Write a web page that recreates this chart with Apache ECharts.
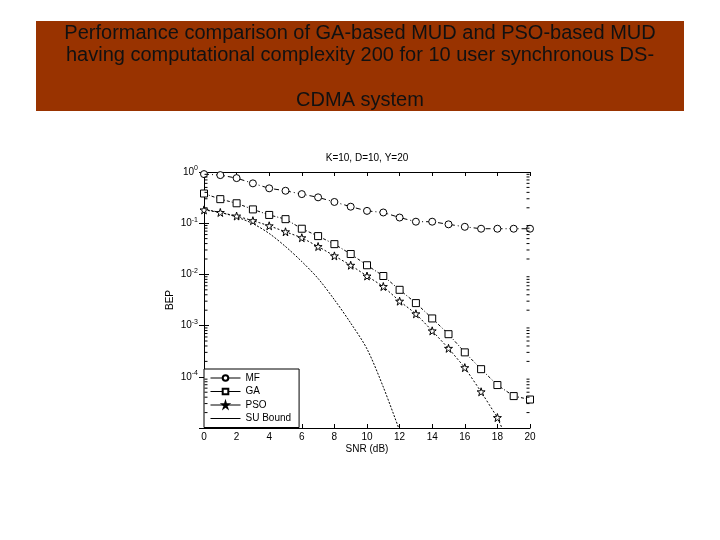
<!DOCTYPE html>
<html>
<head>
<meta charset="utf-8">
<script src="https://cdn.jsdelivr.net/npm/echarts@6/dist/echarts.min.js"></script>
<style>html,body{margin:0;padding:0;background:#fff}#c{width:720px;height:540px}</style>
</head>
<body>
<div id="c"></div>
<script>
const snr = [0,1,2,3,4,5,6,7,8,9,10,11,12,13,14,15,16,17,18,19,20];
const mf  = [0.91,0.87,0.76,0.60,0.48,0.43,0.37,0.32,0.26,0.21,0.174,0.162,0.129,0.107,0.107,0.095,0.085,0.078,0.078,0.078,0.078];
const ga  = [0.38,0.295,0.245,0.186,0.145,0.12,0.078,0.056,0.039,0.025,0.0151,0.0093,0.0050,0.00275,0.00138,6.8e-4,3.0e-4,1.41e-4,6.9e-5,4.2e-5,3.6e-5];
const pso = [0.182,0.162,0.138,0.112,0.089,0.068,0.052,0.035,0.023,0.0151,0.0093,0.0058,0.0030,0.0017,7.9e-4,3.6e-4,1.51e-4,5.1e-5,1.6e-5,3e-6];
const su  = [0.186,0.162,0.132,0.098,0.063,0.035,0.0178,0.0083,0.0032,0.00112,3.5e-4,6.3e-5,8.9e-6];
const seriesNames = ['MF','GA','PSO','SU Bound'];
const xTicks = [0,2,4,6,8,10,12,14,16,18,20];
const yTickExps = [0,-1,-2,-3,-4];
const headerLines = ['Performance comparison of GA-based MUD and PSO-based MUD','having computational complexity 200 for 10 user synchronous DS-','','CDMA system'];
const plotTitle = 'K=10, D=10, Y=20';

const FONT = 'Liberation Sans, Arial, sans-serif';
const starPath = 'path://M50,0 L61,35 L98,35 L68,57 L79,91 L50,70 L21,91 L32,57 L2,35 L39,35 Z';

function pairs(xs, ys){ return ys.map((v,i)=>[xs[i], v]); }

// minor tick values for log axis decoration
const minorVals = [];
for (let d=-5; d<0; d++) for (let m=2; m<10; m++) minorVals.push([0, m*Math.pow(10,d)]);

const chart = echarts.init(document.getElementById('c'), null, {renderer:'canvas'});
const axisCommon = {
  axisLine:{show:true, lineStyle:{color:'#000', width:1}},
  splitLine:{show:false}
};
chart.setOption({
  animation:false,
  backgroundColor:'#fff',
  textStyle:{fontFamily:FONT},
  graphic:[
    {type:'rect', shape:{x:36,y:21,width:648,height:90}, style:{fill:'#993300'}, z:-1},
    {type:'text', x:360, y:22, style:{text:headerLines.join('\n'), fill:'#111', font:'20px '+FONT, textAlign:'center', textVerticalAlign:'top', lineHeight:22.5}},
    {type:'text', x:367, y:158, style:{text:plotTitle, fill:'#000', font:'10px '+FONT, textAlign:'center', textVerticalAlign:'middle'}}
  ],
  grid:{left:204, right:190, top:172, bottom:112, show:false},
  legend:{
    orient:'vertical', left:204, top:369,
    data:[{name:'MF'},{name:'GA'},{name:'PSO'},{name:'SU Bound', itemStyle:{opacity:0}}],
    backgroundColor:'#fff', borderColor:'#000', borderWidth:1, borderRadius:0,
    padding:[4,8,4,6], itemGap:3.5, itemWidth:30, itemHeight:7,
    textStyle:{fontSize:10, color:'#000', fontFamily:FONT},
    lineStyle:{type:'solid', width:1, color:'#000'},
    inactiveColor:'#000'
  },
  xAxis:[
    Object.assign({type:'value', min:0, max:20, interval:2, position:'bottom',
      name:'SNR (dB)', nameLocation:'middle', nameGap:16,
      nameTextStyle:{fontSize:10, color:'#000', fontFamily:FONT},
      axisTick:{inside:true, length:4, lineStyle:{color:'#000'}},
      axisLabel:{fontSize:10, color:'#000', margin:4, fontFamily:FONT,
        formatter:v=>xTicks.includes(v)?String(v):''}}, axisCommon),
    Object.assign({type:'value', min:0, max:20, interval:2, position:'top',
      axisTick:{inside:true, length:4, lineStyle:{color:'#000'}},
      axisLabel:{show:false}}, axisCommon)
  ],
  yAxis:[
    Object.assign({type:'log', logBase:10, min:1e-5, max:1, position:'left',
      name:'BEP', nameLocation:'middle', nameGap:29,
      nameTextStyle:{fontSize:10, color:'#000', fontFamily:FONT},
      axisTick:{inside:true, length:5, lineStyle:{color:'#000'}},
      axisLabel:{color:'#000', margin:6, fontFamily:FONT,
        formatter:v=>{ const e=Math.round(Math.log10(v)); return yTickExps.includes(e)?'{b|10}{s|'+e+'}':''; },
        rich:{b:{fontSize:10, fontFamily:FONT, color:'#000', lineHeight:14}, s:{fontSize:7, fontFamily:FONT, color:'#000', verticalAlign:'top', lineHeight:14, padding:[0,0,6,0]}}}}, axisCommon),
    Object.assign({type:'log', logBase:10, min:1e-5, max:1, position:'right',
      axisTick:{inside:true, length:5, lineStyle:{color:'#000'}},
      axisLabel:{show:false}}, axisCommon)
  ],
  series:[
    {name:'MF', type:'line', data:pairs(snr, mf), symbol:'circle', symbolSize:7,
      itemStyle:{color:'#fff', borderColor:'#000', borderWidth:1},
      lineStyle:{color:'#000', width:1, type:[5,3,1,3]}, clip:true, z:3},
    {name:'GA', type:'line', data:pairs(snr, ga), symbol:'rect', symbolSize:7,
      itemStyle:{color:'#fff', borderColor:'#000', borderWidth:1},
      lineStyle:{color:'#000', width:1, type:[3,2,1,2]}, clip:true, z:3},
    {name:'PSO', type:'line', data:pairs(snr, pso), symbol:starPath, symbolSize:8,
      itemStyle:{color:'#fff', borderColor:'#000', borderWidth:1},
      lineStyle:{color:'#000', width:1, type:[2,2]}, clip:true, z:3},
    {name:'SU Bound', type:'line', data:pairs(snr, su), symbol:'none', showSymbol:false, smooth:0.3,
      itemStyle:{color:'#000'},
      lineStyle:{color:'#000', width:1, type:[2,1.5]}, clip:true, z:2},
    {name:'minor', type:'custom', data:minorVals, silent:true, z:4,
      renderItem:(params, api)=>{
        const v = api.value(1);
        const a = api.coord([0, v]);
        const b = api.coord([20, v]);
        return {type:'group', children:[
          {type:'line', shape:{x1:a[0]+0.5, y1:a[1], x2:a[0]+3.5, y2:a[1]}, style:{stroke:'#000', lineWidth:1}},
          {type:'line', shape:{x1:b[0]-0.5, y1:b[1], x2:b[0]-3.5, y2:b[1]}, style:{stroke:'#000', lineWidth:1}}
        ]};
      }}
  ]
});
</script>
</body>
</html>
